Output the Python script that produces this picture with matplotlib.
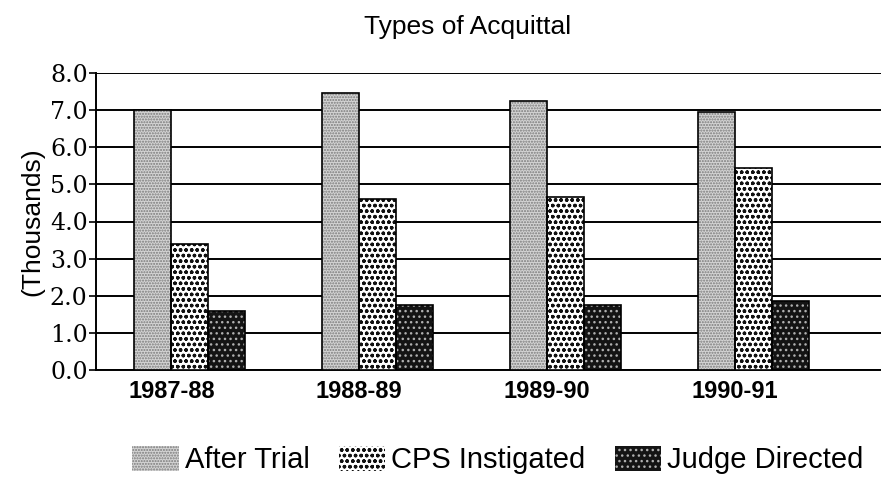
import matplotlib
matplotlib.use("Agg")
import matplotlib.pyplot as plt
import matplotlib.patches as mpatches
import numpy as np

plt.rcParams["font.family"] = ["Liberation Sans", "DejaVu Sans"]

years = ["1987-88", "1988-89", "1989-90", "1990-91"]
after_trial = [7.0, 7.45, 7.25, 6.95]
cps_instigated = [3.4, 4.6, 4.65, 5.45]
judge_directed = [1.6, 1.75, 1.75, 1.85]

series = [
    ("After Trial", after_trial, dict(face="#d4d4d4", hatch="......", hcolor="#7a7a7a")),
    ("CPS Instigated", cps_instigated, dict(face="white", hatch="ooo", hcolor="#111111")),
    ("Judge Directed", judge_directed, dict(face="#141414", hatch="...", hcolor="#b0b0b0")),
]

fig = plt.figure(figsize=(8.81, 4.8), dpi=100)
ax = fig.add_axes([96 / 881, 110 / 480, 785 / 881, 297 / 480])

x = np.arange(len(years))
width = 0.197

for i, (name, vals, st) in enumerate(series):
    pos = x + (i - 1) * width
    # hatch layer (hatch takes the edge colour), then a plain black outline on top
    ax.bar(pos, vals, width, color=st["face"], hatch=st["hatch"],
           edgecolor=st["hcolor"], linewidth=0, zorder=3)
    ax.bar(pos, vals, width, fill=False, edgecolor="black", linewidth=1.2, zorder=4)

ax.set_xlim(-0.5, 3.68)
ax.set_ylim(0, 8)
ax.set_yticks(np.arange(0, 9, 1))
ax.set_yticklabels([f"{v:.1f}" for v in range(9)], family="DejaVu Serif", fontsize=17)
ax.yaxis.grid(True, color="black", linewidth=1.4, zorder=0)
ax.set_axisbelow(True)

ax.set_xticks(x - width / 2)
ax.set_xticklabels(years, fontsize=17, fontweight="bold")
ax.tick_params(axis="x", length=0, pad=7)
ax.tick_params(axis="y", length=5, width=1.2, pad=1)

for s in ("top", "right"):
    ax.spines[s].set_visible(False)
for s in ("left", "bottom"):
    ax.spines[s].set_linewidth(1.4)

ax.set_ylabel("(Thousands)", fontsize=19, labelpad=4)
fig.text(0.531, 0.943, "Types of Acquittal", ha="center", va="center", fontsize=19)

handles = [
    mpatches.Patch(facecolor=st["face"], hatch=st["hatch"], edgecolor=st["hcolor"],
                   linewidth=0, label=name)
    for name, _, st in series
]
fig.legend(handles=handles, loc="center", bbox_to_anchor=(0.565, 0.042), ncol=3,
           frameon=False, fontsize=21, handlelength=1.6, handleheight=0.95,
           handletextpad=0.2, columnspacing=1.0, borderpad=0.1)

fig.savefig("out.png", dpi=100)
